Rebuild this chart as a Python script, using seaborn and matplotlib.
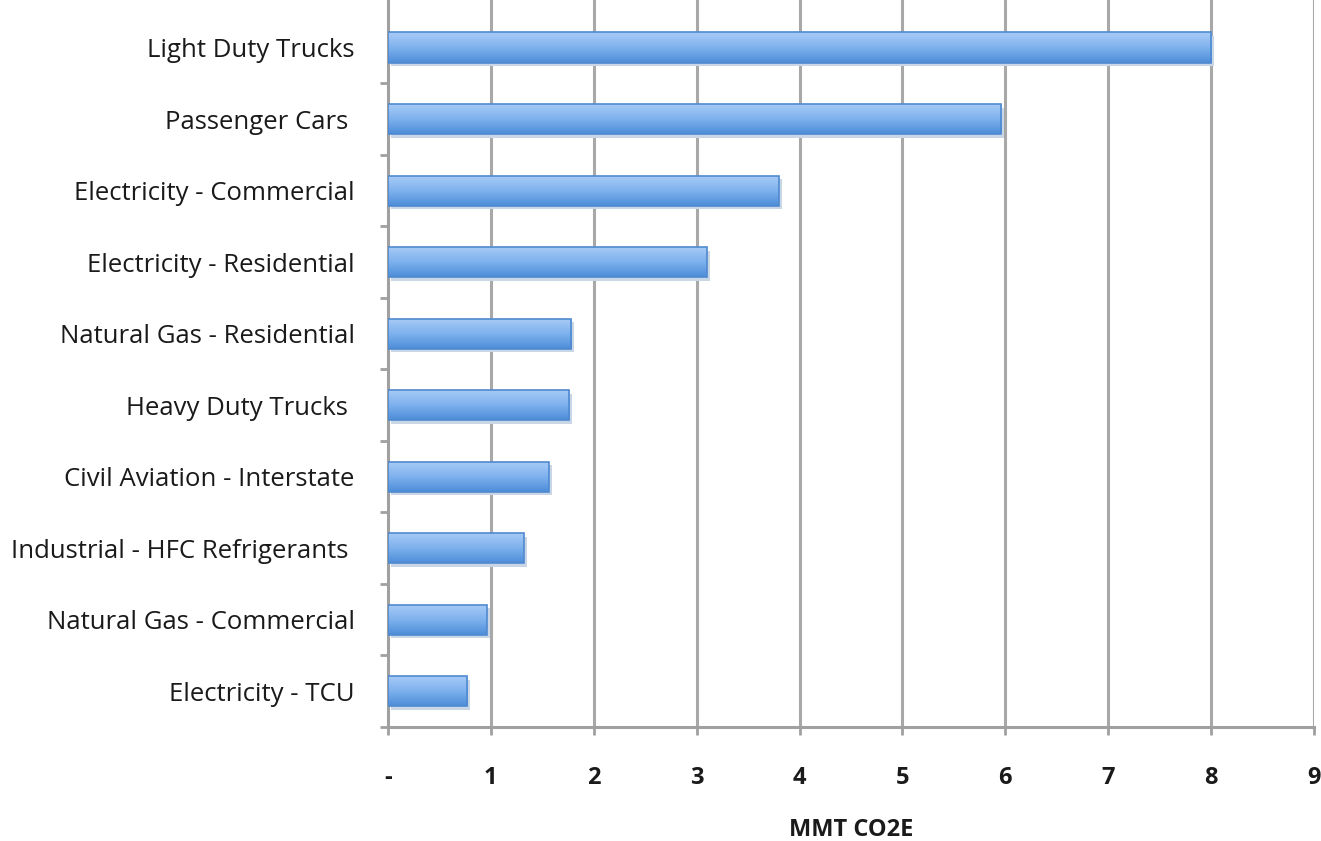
import numpy as np
import pandas as pd
import matplotlib
matplotlib.use("Agg")
import matplotlib.pyplot as plt
import seaborn as sns
from matplotlib.colors import LinearSegmentedColormap

categories = ["Light Duty Trucks", "Passenger Cars ", "Electricity - Commercial",
              "Electricity - Residential", "Natural Gas - Residential", "Heavy Duty Trucks ",
              "Civil Aviation - Interstate", "Industrial - HFC Refrigerants ",
              "Natural Gas - Commercial", "Electricity - TCU"]
values = [8.0, 5.96, 3.8, 3.1, 1.78, 1.76, 1.56, 1.32, 0.96, 0.77]
xtick_values = [0, 1, 2, 3, 4, 5, 6, 7, 8, 9]
xtick_labels = ["-", "1", "2", "3", "4", "5", "6", "7", "8", "9"]

df = pd.DataFrame({"category": categories, "value": values})

sns.set_theme(style="white")
plt.rcParams['font.family'] = ['Open Sans', 'DejaVu Sans']

fig = plt.figure(figsize=(13.21, 8.41), dpi=100)
ax = fig.add_axes([388/1321, 1 - 727/841, (1314-388)/1321, 727/841])

sns.barplot(data=df, y="category", x="value", orient="h", ax=ax,
            color="#6ea6e6", width=0.42, edgecolor="#4f8ad0", linewidth=1.2, zorder=3)

# gradient fill clipped to each bar
cmap = LinearSegmentedColormap.from_list("g", ["#a8cbf7", "#7fb2ee", "#4d8dd8"])
grad = np.linspace(0, 1, 64).reshape(-1, 1)
for p in list(ax.patches):
    x0, y0 = p.get_x(), p.get_y()
    w, h = p.get_width(), p.get_height()
    # shadow
    ax.add_patch(plt.Rectangle((x0 + 0.03, y0 + 0.05), w, h, color="#c9d6e6", zorder=2, lw=0))
    im = ax.imshow(grad, extent=(x0, x0 + w, y0 + h, y0), aspect="auto", cmap=cmap,
                   zorder=3.5, interpolation="bilinear")
    im.set_clip_path(p)
    p.set_facecolor("none")
    p.set_zorder(4)

ax.set_xlim(0, 9)
ax.set_ylim(len(categories) - 0.5, -0.664)
ax.set_xticks(xtick_values)
ax.set_xticklabels(xtick_labels)
ax.grid(False)
for xv in xtick_values[1:]:
    ax.axvline(xv, color="#a8a8a8", lw=2.2, zorder=1)

ax.set_yticks(np.arange(len(categories)))
ax.set_yticklabels(categories)
ax.set_yticks(np.arange(len(categories)) + 0.5, minor=True)
ax.tick_params(axis="y", which="major", length=0, pad=24, labelsize=18.5, labelcolor="#1a1a1a")
ax.tick_params(axis="y", which="minor", length=6, width=2, color="#a0a0a0", left=True)
ax.tick_params(axis="x", which="major", length=6, width=2, color="#a0a0a0", bottom=True,
               pad=22, labelsize=17, labelcolor="#1a1a1a")
for t in ax.get_xticklabels():
    t.set_fontweight("bold")
for t in ax.get_yticklabels():
    t.set_fontweight("medium")

for side in ["top", "right"]:
    ax.spines[side].set_visible(False)
for side in ["left", "bottom"]:
    ax.spines[side].set_color("#a0a0a0")
    ax.spines[side].set_linewidth(2.2)

ax.set_ylabel("")
ax.set_xlabel("MMT CO2E", fontsize=17, fontweight="bold", labelpad=20, color="#1a1a1a")

fig.savefig("out.png", dpi=100, facecolor="white")
